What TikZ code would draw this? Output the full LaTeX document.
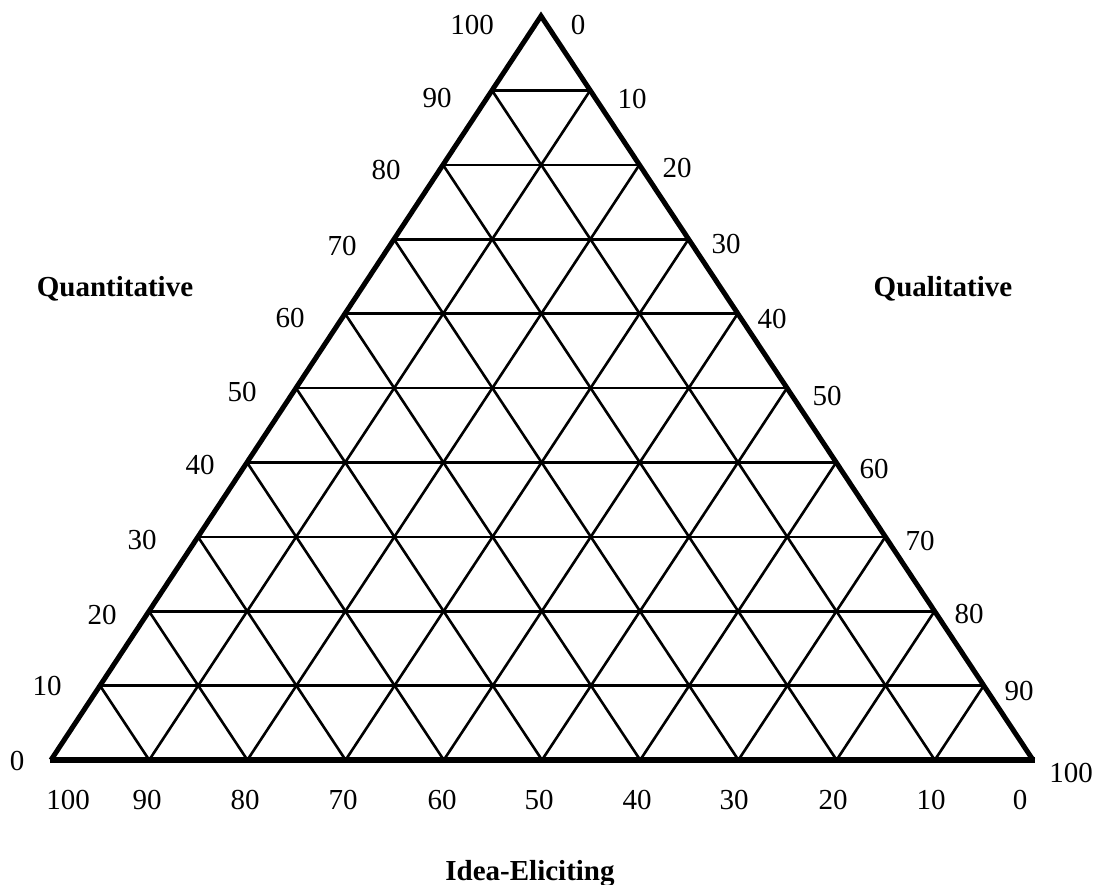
\documentclass[tikz,border=0pt]{standalone}
\usepackage{fontspec}
\setmainfont{Liberation Serif}
\usetikzlibrary{calc}
\tikzset{
  num/.style={inner sep=0pt, anchor=center, font=\fontsize{29}{32}\selectfont},
  axtitle/.style={inner sep=0pt, anchor=base, font=\fontsize{29}{32}\selectfont\bfseries},
  gridline/.style={line width=2.6pt, line cap=round},
  frame/.style={line width=5pt, line join=miter},
  baseline/.style={line width=6.5pt}
}
\begin{document}
\begin{tikzpicture}[x=1pt,y=-1pt]
\useasboundingbox (0,0) rectangle (1096,885);
\coordinate (A) at (51,760);
\coordinate (B) at (1033,760);
\coordinate (C) at (541,16);
% grid
\foreach \k in {1,...,9}{
  \draw[gridline] ($(A)!\k/10!(C)$) -- ($(B)!\k/10!(C)$);
  \draw[gridline] ($(A)!\k/10!(B)$) -- ($(C)!\k/10!(B)$);
  \draw[gridline] ($(A)!\k/10!(B)$) -- ($(A)!\k/10!(C)$);
}
% frame
\draw[frame] (A) -- (C) -- (B);
\draw[baseline] ($(A)+(-1.5,0)$) -- ($(B)+(1.5,0)$);
% left labels
\node[num] (l100) at (472,25) {100};
\node[num] (l90) at (437,98) {90};
\node[num] (l80) at (386,170) {80};
\node[num] (l70) at (342,246) {70};
\node[num] (l60) at (290,318) {60};
\node[num] (l50) at (242,392) {50};
\node[num] (l40) at (200,465) {40};
\node[num] (l30) at (142,540) {30};
\node[num] (l20) at (102,615) {20};
\node[num] (l10) at (47,686) {10};
\node[num] (l0) at (17,761) {0};
% right labels
\node[num] (r0) at (578,25) {0};
\node[num] (r10) at (632,99) {10};
\node[num] (r20) at (677,168) {20};
\node[num] (r30) at (726,244) {30};
\node[num] (r40) at (772,319) {40};
\node[num] (r50) at (827,396) {50};
\node[num] (r60) at (874,469) {60};
\node[num] (r70) at (920,541) {70};
\node[num] (r80) at (969,614) {80};
\node[num] (r90) at (1019,691) {90};
\node[num] (r100) at (1071,773) {100};
% bottom labels
\node[num] (b100) at (68,800) {100};
\node[num] (b90) at (147,800) {90};
\node[num] (b80) at (245,800) {80};
\node[num] (b70) at (343,800) {70};
\node[num] (b60) at (442,800) {60};
\node[num] (b50) at (539,800) {50};
\node[num] (b40) at (637,800) {40};
\node[num] (b30) at (734,800) {30};
\node[num] (b20) at (833,800) {20};
\node[num] (b10) at (931,800) {10};
\node[num] (b0) at (1020,800) {0};
% axis titles
\node[axtitle] (quant) at (115,297) {Quantitative};
\node[axtitle] (qual) at (943,297) {Qualitative};
\node[axtitle] (idea) at (530,880) {Idea-Eliciting};
\end{tikzpicture}
\end{document}
